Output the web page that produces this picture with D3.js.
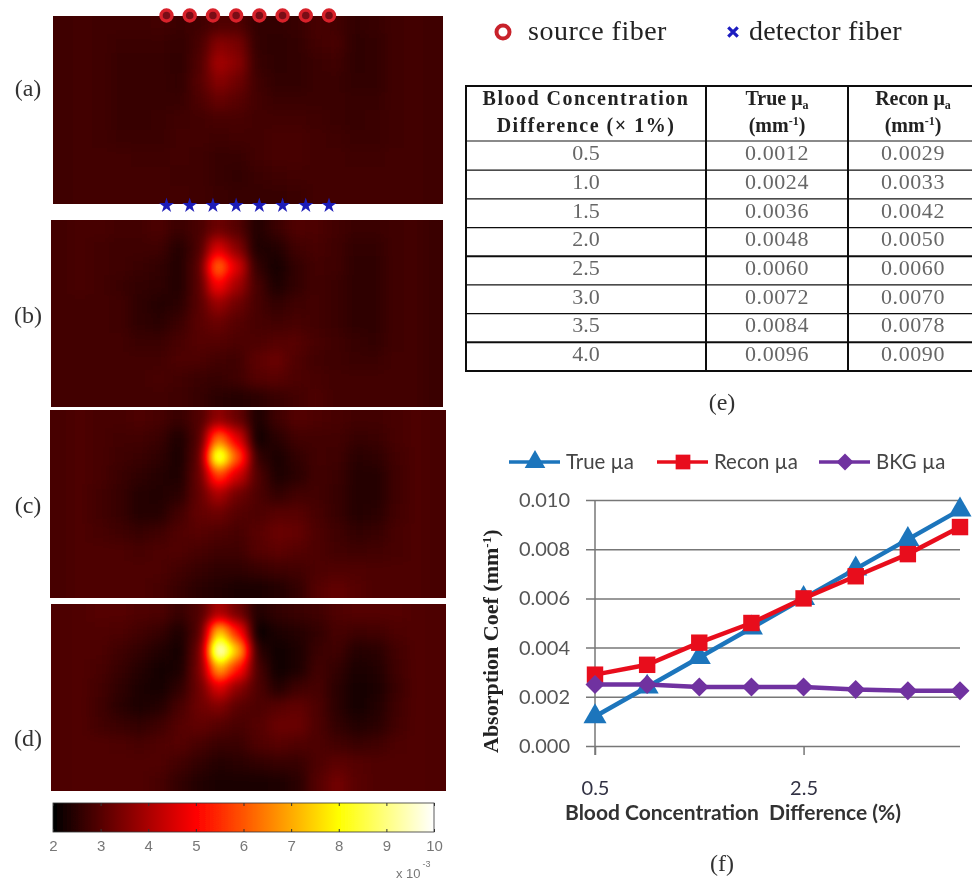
<!DOCTYPE html>
<html>
<head>
<meta charset="utf-8">
<script src="https://cdnjs.cloudflare.com/ajax/libs/d3/7.8.5/d3.min.js"></script>
<style>
html, body { margin: 0; padding: 0; background: #fff; }
svg { display: block; }
.serif { font-family: "Liberation Serif", serif; }
.sans { font-family: Lato, "Open Sans", sans-serif; }
</style>
</head>
<body>
<svg width="972" height="880"></svg>
<script>
// heat map values, x 10^-3 (10 rows of 20 cells)
var panelA = [
    [2.75, 2.8, 2.75, 2.75, 2.75, 2.8, 2.7, 2.75, 2.95, 2.95, 2.6, 2.6, 2.65, 2.85, 2.8, 2.6, 2.65, 2.75, 2.8, 2.75],
    [2.75, 2.8, 2.75, 2.7, 2.7, 2.7, 2.6, 2.85, 3.6, 3.4, 2.6, 2.55, 2.6, 2.8, 2.85, 2.55, 2.6, 2.75, 2.8, 2.75],
    [2.75, 2.8, 2.75, 2.65, 2.65, 2.65, 2.55, 2.95, 3.95, 3.6, 2.65, 2.55, 2.6, 2.7, 2.75, 2.55, 2.6, 2.75, 2.8, 2.75],
    [2.75, 2.8, 2.75, 2.65, 2.65, 2.65, 2.6, 3.0, 3.6, 3.3, 2.75, 2.6, 2.6, 2.7, 2.7, 2.6, 2.6, 2.75, 2.8, 2.75],
    [2.75, 2.8, 2.75, 2.65, 2.65, 2.65, 2.65, 2.9, 3.2, 3.05, 2.8, 2.7, 2.7, 2.7, 2.7, 2.65, 2.65, 2.75, 2.8, 2.75],
    [2.75, 2.8, 2.75, 2.65, 2.65, 2.7, 2.75, 2.8, 2.85, 2.85, 2.8, 2.8, 2.8, 2.75, 2.7, 2.65, 2.7, 2.75, 2.8, 2.75],
    [2.75, 2.8, 2.75, 2.7, 2.7, 2.7, 2.8, 2.8, 2.75, 2.8, 2.8, 2.85, 2.85, 2.8, 2.75, 2.7, 2.7, 2.75, 2.8, 2.75],
    [2.75, 2.8, 2.8, 2.8, 2.75, 2.75, 2.8, 2.75, 2.65, 2.65, 2.8, 2.85, 2.85, 2.8, 2.8, 2.75, 2.75, 2.8, 2.8, 2.75],
    [2.75, 2.8, 2.8, 2.8, 2.8, 2.8, 2.75, 2.75, 2.65, 2.6, 2.7, 2.75, 2.8, 2.8, 2.8, 2.8, 2.8, 2.8, 2.8, 2.75],
    [2.75, 2.8, 2.8, 2.8, 2.8, 2.8, 2.8, 2.75, 2.7, 2.65, 2.65, 2.65, 2.7, 2.8, 2.8, 2.8, 2.8, 2.8, 2.8, 2.75]
];
var panelB = [
    [2.8, 2.85, 2.85, 2.8, 2.8, 2.9, 2.7, 2.85, 3.3, 3.0, 2.4, 2.7, 2.95, 2.9, 2.8, 2.7, 2.7, 2.75, 2.8, 2.7],
    [2.8, 2.85, 2.8, 2.75, 2.75, 2.75, 2.45, 2.85, 4.6, 3.6, 2.35, 2.4, 2.75, 2.85, 2.75, 2.6, 2.6, 2.75, 2.8, 2.7],
    [2.8, 2.85, 2.8, 2.75, 2.7, 2.6, 2.4, 3.0, 6.4, 4.6, 2.6, 2.25, 2.6, 2.8, 2.75, 2.55, 2.55, 2.75, 2.8, 2.7],
    [2.8, 2.85, 2.8, 2.7, 2.6, 2.55, 2.4, 3.0, 5.0, 3.9, 2.85, 2.35, 2.6, 2.8, 2.7, 2.55, 2.55, 2.75, 2.8, 2.7],
    [2.8, 2.8, 2.8, 2.75, 2.55, 2.45, 2.5, 3.0, 3.8, 3.3, 2.85, 2.6, 2.75, 2.8, 2.7, 2.55, 2.55, 2.75, 2.8, 2.7],
    [2.8, 2.8, 2.8, 2.75, 2.55, 2.5, 2.7, 3.05, 3.25, 3.0, 2.85, 2.8, 2.85, 2.8, 2.7, 2.55, 2.55, 2.75, 2.8, 2.7],
    [2.8, 2.8, 2.8, 2.8, 2.7, 2.7, 2.85, 3.0, 3.0, 2.9, 2.9, 3.0, 3.05, 2.85, 2.75, 2.65, 2.6, 2.75, 2.8, 2.7],
    [2.8, 2.8, 2.8, 2.8, 2.8, 2.8, 2.9, 2.9, 2.8, 2.75, 3.1, 3.25, 2.95, 2.8, 2.75, 2.7, 2.7, 2.8, 2.8, 2.7],
    [2.8, 2.8, 2.8, 2.8, 2.8, 2.85, 2.8, 2.7, 2.65, 2.75, 3.0, 3.05, 2.9, 2.85, 2.8, 2.8, 2.8, 2.8, 2.8, 2.7],
    [2.8, 2.8, 2.8, 2.8, 2.8, 2.8, 2.75, 2.65, 2.5, 2.45, 2.5, 2.65, 2.8, 2.9, 2.8, 2.8, 2.8, 2.8, 2.8, 2.7]
];
var panelC = [
    [2.85, 2.9, 2.85, 2.85, 2.9, 2.85, 2.65, 2.95, 3.7, 3.2, 2.35, 2.75, 3.0, 2.9, 2.85, 2.8, 2.8, 2.85, 2.9, 2.85],
    [2.85, 2.9, 2.85, 2.8, 2.8, 2.7, 2.35, 2.95, 6.4, 4.6, 2.2, 2.5, 2.8, 2.8, 2.8, 2.65, 2.7, 2.85, 2.9, 2.85],
    [2.85, 2.9, 2.85, 2.75, 2.7, 2.55, 2.3, 3.1, 9.0, 6.0, 2.6, 2.3, 2.6, 2.8, 2.75, 2.5, 2.55, 2.8, 2.9, 2.85],
    [2.85, 2.9, 2.85, 2.7, 2.55, 2.45, 2.35, 3.2, 5.8, 4.4, 2.95, 2.35, 2.5, 2.8, 2.7, 2.45, 2.45, 2.75, 2.9, 2.85],
    [2.85, 2.9, 2.8, 2.65, 2.45, 2.4, 2.5, 3.15, 4.0, 3.3, 2.9, 2.6, 2.8, 2.8, 2.65, 2.45, 2.45, 2.75, 2.9, 2.85],
    [2.85, 2.9, 2.8, 2.65, 2.45, 2.45, 2.8, 3.15, 3.3, 3.0, 2.9, 3.05, 3.05, 2.85, 2.65, 2.45, 2.5, 2.8, 2.9, 2.85],
    [2.85, 2.9, 2.85, 2.75, 2.65, 2.75, 2.95, 3.05, 2.95, 2.85, 3.05, 3.25, 3.2, 2.9, 2.75, 2.6, 2.65, 2.85, 2.9, 2.85],
    [2.85, 2.9, 2.9, 2.9, 2.85, 2.9, 2.95, 2.85, 2.75, 2.75, 3.0, 3.1, 3.0, 2.9, 2.8, 2.75, 2.8, 2.85, 2.9, 2.85],
    [2.85, 2.9, 2.9, 2.9, 2.9, 2.9, 2.8, 2.65, 2.55, 2.55, 2.65, 2.75, 2.8, 2.9, 2.95, 2.95, 2.9, 2.9, 2.9, 2.85],
    [2.85, 2.9, 2.9, 2.9, 2.9, 2.85, 2.65, 2.5, 2.4, 2.3, 2.3, 2.4, 2.6, 3.0, 3.15, 3.0, 2.9, 2.9, 2.9, 2.85]
];
var panelD = [
    [2.9, 2.95, 3.0, 3.0, 2.95, 2.9, 2.65, 2.95, 4.0, 3.3, 2.4, 2.6, 2.7, 2.75, 2.95, 3.0, 3.0, 3.0, 2.95, 2.9],
    [2.9, 2.95, 2.95, 2.9, 2.8, 2.65, 2.35, 3.0, 7.5, 5.2, 2.1, 2.35, 2.45, 2.6, 2.85, 2.75, 2.8, 2.9, 2.95, 2.9],
    [2.9, 2.95, 2.9, 2.75, 2.6, 2.4, 2.25, 3.3, 10, 7.2, 2.5, 2.2, 2.35, 2.7, 2.75, 2.45, 2.5, 2.8, 2.95, 2.9],
    [2.9, 2.95, 2.85, 2.65, 2.45, 2.25, 2.3, 3.4, 7.0, 5.2, 2.85, 2.2, 2.35, 2.8, 2.6, 2.3, 2.4, 2.75, 2.95, 2.9],
    [2.9, 2.95, 2.8, 2.55, 2.35, 2.25, 2.55, 3.3, 4.6, 3.6, 2.9, 2.45, 2.75, 2.85, 2.5, 2.25, 2.35, 2.7, 2.95, 2.9],
    [2.9, 2.95, 2.75, 2.5, 2.35, 2.45, 2.85, 3.3, 3.5, 3.05, 2.9, 3.05, 3.15, 2.9, 2.5, 2.25, 2.4, 2.75, 2.95, 2.9],
    [2.9, 2.95, 2.8, 2.7, 2.6, 2.75, 3.0, 3.15, 3.0, 2.85, 3.0, 3.25, 3.25, 2.9, 2.6, 2.4, 2.5, 2.8, 2.95, 2.9],
    [2.9, 2.95, 2.95, 2.9, 2.85, 2.95, 3.0, 2.85, 2.7, 2.7, 2.95, 3.05, 2.95, 2.9, 2.8, 2.7, 2.75, 2.9, 2.95, 2.9],
    [2.9, 2.95, 2.95, 2.95, 2.95, 2.95, 2.8, 2.6, 2.45, 2.5, 2.6, 2.65, 2.65, 2.9, 3.1, 3.0, 2.95, 2.95, 2.95, 2.9],
    [2.9, 2.95, 2.95, 2.95, 2.95, 2.85, 2.6, 2.4, 2.3, 2.3, 2.3, 2.35, 2.5, 3.0, 3.35, 3.05, 2.95, 2.95, 2.95, 2.9]
];

// hot colormap, one stop per unit from 2 to 10
var hotR = [0, 0.333, 0.667, 1, 1, 1, 1, 1, 1];
var hotG = [0, 0, 0, 0, 0.333, 0.667, 1, 1, 1];
var hotB = [0, 0, 0, 0, 0, 0, 0, 0.5, 1];
var colorTicks = [2, 3, 4, 5, 6, 7, 8, 9, 10];

var fibers = [1, 2, 3, 4, 5, 6, 7, 8];

var tableHead = ["Blood Concentration", "Difference (× 1%)"];
var concentration = [0.5, 1.0, 1.5, 2.0, 2.5, 3.0, 3.5, 4.0];
var trueUa = [0.0012, 0.0024, 0.0036, 0.0048, 0.0060, 0.0072, 0.0084, 0.0096];
var reconTable = [0.0029, 0.0033, 0.0042, 0.0050, 0.0060, 0.0070, 0.0078, 0.0090];
var reconUa = [0.0029, 0.0033, 0.0042, 0.0050, 0.0060, 0.0069, 0.0078, 0.0089];
var bkgUa = [0.0025, 0.0025, 0.0024, 0.0024, 0.0024, 0.0023, 0.00225, 0.00225];
var yTicks = [0, 0.002, 0.004, 0.006, 0.008, 0.010];
var xTicks = [0.5, 2.5];

var canvas = d3.select("svg");
var defs = canvas.append("defs");

// soft edge like the scanned original
defs.append("filter").attr("id", "soft")
    .attr("x", "-5%").attr("y", "-5%").attr("width", "110%").attr("height", "110%")
    .append("feGaussianBlur").attr("stdDeviation", 0.5);

// blur the grey values first, then map them to colour
var heatFilter = defs.append("filter").attr("id", "heat")
    .attr("filterUnits", "userSpaceOnUse")
    .attr("x", 0).attr("y", 0).attr("width", 972).attr("height", 880)
    .attr("color-interpolation-filters", "sRGB");
heatFilter.append("feGaussianBlur").attr("stdDeviation", 6.5);
var transfer = heatFilter.append("feComponentTransfer");
[["feFuncR", hotR], ["feFuncG", hotG], ["feFuncB", hotB]].forEach(function (f) {
    transfer.append(f[0]).attr("type", "table").attr("tableValues", f[1].join(" "));
});

var grey = d3.scaleLinear().domain([2, 10]).range(["#000", "#fff"]).clamp(true);

function drawPanel(values, id, x0, x1, y0, y1) {
    var xBand = d3.scaleBand().domain(d3.range(values[0].length)).range([x0, x1]);
    var yBand = d3.scaleBand().domain(d3.range(values.length)).range([y0, y1]);
    defs.append("clipPath").attr("id", id)
        .append("rect").attr("x", x0).attr("y", y0).attr("width", x1 - x0).attr("height", y1 - y0);
    var g = canvas.append("g").attr("clip-path", `url(#${id})`)
        .append("g").attr("filter", "url(#heat)");
    // edge cells run on past the clip so the blur does not fade at the border
    g.append("rect")
        .attr("x", x0 - 30).attr("y", y0 - 30)
        .attr("width", x1 - x0 + 60).attr("height", y1 - y0 + 60)
        .attr("fill", grey(2.8));
    g.selectAll("g")
        .data(values)
        .enter()
        .append("g")
        .selectAll("rect")
        .data((row, r) => row.map((v, c) => ({ v: v, r: r, c: c })))
        .enter()
        .append("rect")
        .attr("x", d => xBand(d.c) - (d.c == 0 ? 30 : 0))
        .attr("y", d => yBand(d.r) - (d.r == 0 ? 30 : 0))
        .attr("width", d => xBand.bandwidth() + (d.c == 0 || d.c == values[0].length - 1 ? 30 : 0) + 0.5)
        .attr("height", d => yBand.bandwidth() + (d.r == 0 || d.r == values.length - 1 ? 30 : 0) + 0.5)
        .attr("fill", d => grey(d.v));
}

drawPanel(panelA, "clipA", 53, 443, 16, 204);
drawPanel(panelB, "clipB", 51, 443, 220, 407);
drawPanel(panelC, "clipC", 50, 446, 410, 598);
drawPanel(panelD, "clipD", 51, 446, 604, 791);

var soft = canvas.append("g").attr("filter", "url(#soft)");

// panel letters
var letters = [["(a)", 28, 96], ["(b)", 28, 323], ["(c)", 28, 513], ["(d)", 28, 746], ["(e)", 722, 410], ["(f)", 722, 871]];
soft.selectAll("text.letter")
    .data(letters)
    .enter()
    .append("text")
    .attr("class", "letter serif")
    .attr("x", d => d[1])
    .attr("y", d => d[2])
    .attr("text-anchor", "middle")
    .attr("font-size", 24)
    .attr("fill", "#333")
    .text(d => d[0]);

// fibers
var fiberX = d3.scalePoint().domain(fibers).range([166.5, 329]);
soft.selectAll("circle.source")
    .data(fibers)
    .enter()
    .append("circle")
    .attr("class", "source")
    .attr("cx", d => fiberX(d))
    .attr("cy", 15.5)
    .attr("r", 5.5)
    .attr("fill", "#7a1018")
    .attr("stroke", "#d8202c")
    .attr("stroke-width", 3.4);
soft.selectAll("path.detector")
    .data(fibers)
    .enter()
    .append("path")
    .attr("class", "detector")
    .attr("transform", d => `translate(${fiberX(d)},205.5)`)
    .attr("d", d3.symbol().type(d3.symbolStar).size(70))
    .attr("fill", "#1c1cb8");

// fiber legend
soft.append("circle").attr("cx", 503).attr("cy", 32).attr("r", 6.5)
    .attr("fill", "none").attr("stroke", "#c8202c").attr("stroke-width", 4);
soft.append("text").attr("class", "serif").attr("x", 528).attr("y", 40)
    .attr("font-size", 28).attr("letter-spacing", 0.5).attr("fill", "#222").text("source fiber");
soft.append("path").attr("transform", "translate(733,32)")
    .attr("d", d3.symbol().type(d3.symbolTimes).size(60))
    .attr("fill", "#1c1cc0").attr("stroke", "#1c1cc0").attr("stroke-width", 3.2);
soft.append("text").attr("class", "serif").attr("x", 749).attr("y", 40)
    .attr("font-size", 28).attr("letter-spacing", 0.2).attr("fill", "#222").text("detector fiber");

// table
var colEdges = [466, 706, 848, 972];
var rowY = d3.scaleBand().domain(concentration).range([141.5, 371]);
var colCenter = [586, 777, 913];
var tableG = soft.append("g");
tableG.selectAll("line.v")
    .data(colEdges.slice(0, 3))
    .enter()
    .append("line")
    .attr("x1", d => d).attr("x2", d => d)
    .attr("y1", 86).attr("y2", 371.5)
    .attr("stroke", "#111").attr("stroke-width", 2);
tableG.selectAll("line.h")
    .data([86, 141].concat(concentration.map(d => rowY(d) + rowY.bandwidth())))
    .enter()
    .append("line")
    .attr("x1", 465).attr("x2", 972)
    .attr("y1", d => d).attr("y2", d => d)
    .attr("stroke", "#111")
    .attr("stroke-width", (d, i) => (i == 0 || i == 5 || i == 8 || i == 9) ? 2 : 1.2);

var headG = tableG.append("g").attr("class", "serif")
    .attr("font-weight", "bold").attr("fill", "#222")
    .attr("font-size", 20).attr("text-anchor", "middle");
headG.selectAll("text.h1")
    .data(tableHead)
    .enter()
    .append("text")
    .attr("x", colCenter[0])
    .attr("y", (d, i) => 105 + i * 27)
    .attr("letter-spacing", 1.5)
    .text(d => d);
function headUnit(x, name) {
    var t = headG.append("text").attr("x", x).attr("y", 105).text(name + " μ");
    t.append("tspan").attr("font-size", 12).attr("dy", 4).text("a");
    var u = headG.append("text").attr("x", x).attr("y", 132).text("(mm");
    u.append("tspan").attr("font-size", 12).attr("dy", -7).text("-1");
    u.append("tspan").attr("dy", 7).text(")");
}
headUnit(colCenter[1], "True");
headUnit(colCenter[2], "Recon");

var rows = tableG.selectAll("g.row")
    .data(concentration)
    .enter()
    .append("g")
    .attr("class", "row serif")
    .attr("font-size", 22)
    .attr("fill", "#666")
    .attr("text-anchor", "middle")
    .attr("transform", d => `translate(0,${rowY(d) + rowY.bandwidth() / 2 + 4.5})`);
rows.append("text").attr("x", colCenter[0]).text(d => d.toFixed(1));
rows.append("text").attr("x", colCenter[1]).attr("letter-spacing", 0.6).text((d, i) => trueUa[i].toFixed(4));
rows.append("text").attr("x", colCenter[2]).attr("letter-spacing", 0.6).text((d, i) => reconTable[i].toFixed(4));

// line chart
var xScale = d3.scaleLinear().domain([0.5, 4]).range([595, 960]);
var yScale = d3.scaleLinear().domain([0, 0.01]).range([746, 500]);

var yAxis = soft.append("g")
    .attr("transform", "translate(595,0)")
    .call(d3.axisLeft(yScale).tickValues(yTicks).tickFormat(d3.format(".3f")).tickSize(0).tickPadding(25));
yAxis.select(".domain").remove();
yAxis.selectAll("text").attr("class", "sans").attr("font-size", 20).attr("fill", "#555");
yAxis.selectAll("line")
    .attr("x1", -9).attr("x2", 365)
    .attr("stroke", "#777").attr("stroke-width", 1.5);

var xAxis = soft.append("g")
    .attr("transform", "translate(0,746)")
    .call(d3.axisBottom(xScale).tickValues(xTicks).tickFormat(d3.format(".1f")).tickSize(9).tickPadding(26));
xAxis.select(".domain").remove();
xAxis.selectAll("text").attr("class", "sans").attr("font-size", 20).attr("fill", "#334");
xAxis.selectAll("line").attr("stroke", "#777").attr("stroke-width", 1.5);
soft.append("line").attr("x1", 595).attr("x2", 595).attr("y1", 500).attr("y2", 755)
    .attr("stroke", "#777").attr("stroke-width", 1.5);

var series = [
    { name: "True µa", values: trueUa, color: "#1b75bc", symbol: d3.symbolTriangle, size: 230, lx: 509 },
    { name: "Recon µa", values: reconUa, color: "#e8101c", symbol: d3.symbolSquare, size: 270, lx: 657 },
    { name: "BKG µa", values: bkgUa, color: "#7030a0", symbol: d3.symbolDiamond2, size: 230, lx: 819 }
];
var line = d3.line().x((d, i) => xScale(concentration[i])).y(d => yScale(d));

series.forEach(function (s) {
    soft.append("path")
        .attr("d", line(s.values))
        .attr("fill", "none")
        .attr("stroke", s.color)
        .attr("stroke-width", 4.5);
    soft.selectAll(null)
        .data(s.values)
        .enter()
        .append("path")
        .attr("transform", (d, i) => `translate(${xScale(concentration[i])},${yScale(d)})`)
        .attr("d", d3.symbol().type(s.symbol).size(s.size))
        .attr("fill", s.color);
    // legend entry
    soft.append("line")
        .attr("x1", s.lx).attr("x2", s.lx + 51)
        .attr("y1", 462).attr("y2", 462)
        .attr("stroke", s.color).attr("stroke-width", 3.5);
    soft.append("path")
        .attr("transform", `translate(${s.lx + 26},462)`)
        .attr("d", d3.symbol().type(s.symbol).size(s.size * 0.8))
        .attr("fill", s.color);
    soft.append("text")
        .attr("class", "sans")
        .attr("x", s.lx + 57)
        .attr("y", 469)
        .attr("font-size", 20.4)
        .attr("fill", "#444")
        .text(s.name);
});

soft.append("text")
    .attr("class", "sans")
    .attr("x", 565).attr("y", 820)
    .attr("font-size", 21)
    .attr("font-weight", "bold")
    .attr("fill", "#333")
    .attr("xml:space", "preserve")
    .text("Blood Concentration  Difference (%)");

var yTitle = soft.append("text")
    .attr("class", "serif")
    .attr("transform", "translate(498,753) rotate(-90)")
    .attr("font-size", 22)
    .attr("font-weight", "bold")
    .attr("fill", "#222")
    .text("Absorption Coef  (mm");
yTitle.append("tspan").attr("font-size", 13).attr("dy", -7).text("-1");
yTitle.append("tspan").attr("dy", 7).text(")");

// colour bar
var barScale = d3.scaleLinear().domain([2, 10]).range([53, 434]);
var bar = defs.append("linearGradient").attr("id", "hotBar");
colorTicks.forEach(function (v, i) {
    bar.append("stop")
        .attr("offset", i / (colorTicks.length - 1))
        .attr("stop-color", d3.rgb(hotR[i] * 255, hotG[i] * 255, hotB[i] * 255));
});
soft.append("rect")
    .attr("x", barScale(2)).attr("y", 803)
    .attr("width", barScale(10) - barScale(2)).attr("height", 29)
    .attr("fill", "url(#hotBar)")
    .attr("stroke", "#333").attr("stroke-width", 0.8);
var barBottom = soft.append("g")
    .attr("transform", "translate(0,832)")
    .call(d3.axisBottom(barScale).tickValues(colorTicks).tickSize(-3).tickPadding(8));
barBottom.select(".domain").remove();
barBottom.selectAll("text").attr("font-family", "Liberation Sans, sans-serif").attr("font-size", 15).attr("fill", "#777");
barBottom.selectAll("line").attr("stroke", "#333");
var barTop = soft.append("g")
    .attr("transform", "translate(0,803)")
    .call(d3.axisTop(barScale).tickValues(colorTicks).tickSize(-3).tickFormat(""));
barTop.select(".domain").remove();
barTop.selectAll("line").attr("stroke", "#333");

var multiplier = soft.append("text")
    .attr("x", 396).attr("y", 878)
    .attr("font-family", "Liberation Sans, sans-serif")
    .attr("font-size", 13)
    .attr("fill", "#777")
    .text("x 10");
multiplier.append("tspan").attr("font-size", 9).attr("dy", -11).attr("dx", 2).text("-3");
</script>
</body>
</html>
